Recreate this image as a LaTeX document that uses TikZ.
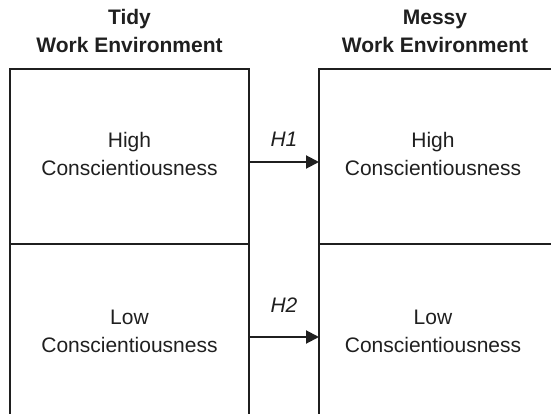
\documentclass[tikz,border=0pt]{standalone}
\usepackage{fontspec}
\setmainfont{Liberation Sans}
\usetikzlibrary{arrows.meta}
\begin{document}
\begin{tikzpicture}[x=1pt,y=-1pt,
  ink/.style={draw=black!88, line width=2pt},
  celltext/.style={align=center, font=\fontsize{21}{28}\selectfont, text=black!88, inner sep=0pt},
  headtext/.style={align=center, font=\fontsize{21}{28}\selectfont\bfseries, text=black!88, inner sep=0pt},
  hyplabel/.style={font=\fontsize{21}{28}\selectfont\itshape, text=black!88, inner sep=0pt},
  link/.style={draw=black!88, line width=2pt, -{Triangle[length=13pt,width=13pt]}}]
\useasboundingbox (0,0) rectangle (551,414);

% column headings
\node[headtext] (tidy) at (129.5,31) {Tidy\\Work Environment};
\node[headtext] (messy) at (435,31) {Messy\\Work Environment};

% left column frame
\draw[ink] (10,416) -- (10,69) -- (249,69) -- (249,416);
\draw[ink] (10,244) -- (249,244);
% right column frame
\draw[ink] (319,416) -- (319,69) -- (553,69);
\draw[ink] (319,244) -- (553,244);

% cell labels
\node[celltext] (tidyhigh) at (129.5,154) {High\\Conscientiousness};
\node[celltext] (tidylow) at (129.5,331) {Low\\Conscientiousness};
\node[celltext] (messyhigh) at (433,154) {High\\Conscientiousness};
\node[celltext] (messylow) at (433,331) {Low\\Conscientiousness};

% hypothesis arrows
\coordinate (h1s) at (249,162);
\coordinate (h1e) at (319,162);
\coordinate (h2s) at (249,337);
\coordinate (h2e) at (319,337);
\draw[link] (h1s) -- (h1e);
\draw[link] (h2s) -- (h2e);
\node[hyplabel] (h1) at (284,139) {H1};
\node[hyplabel] (h2) at (284,305) {H2};
\end{tikzpicture}
\end{document}
